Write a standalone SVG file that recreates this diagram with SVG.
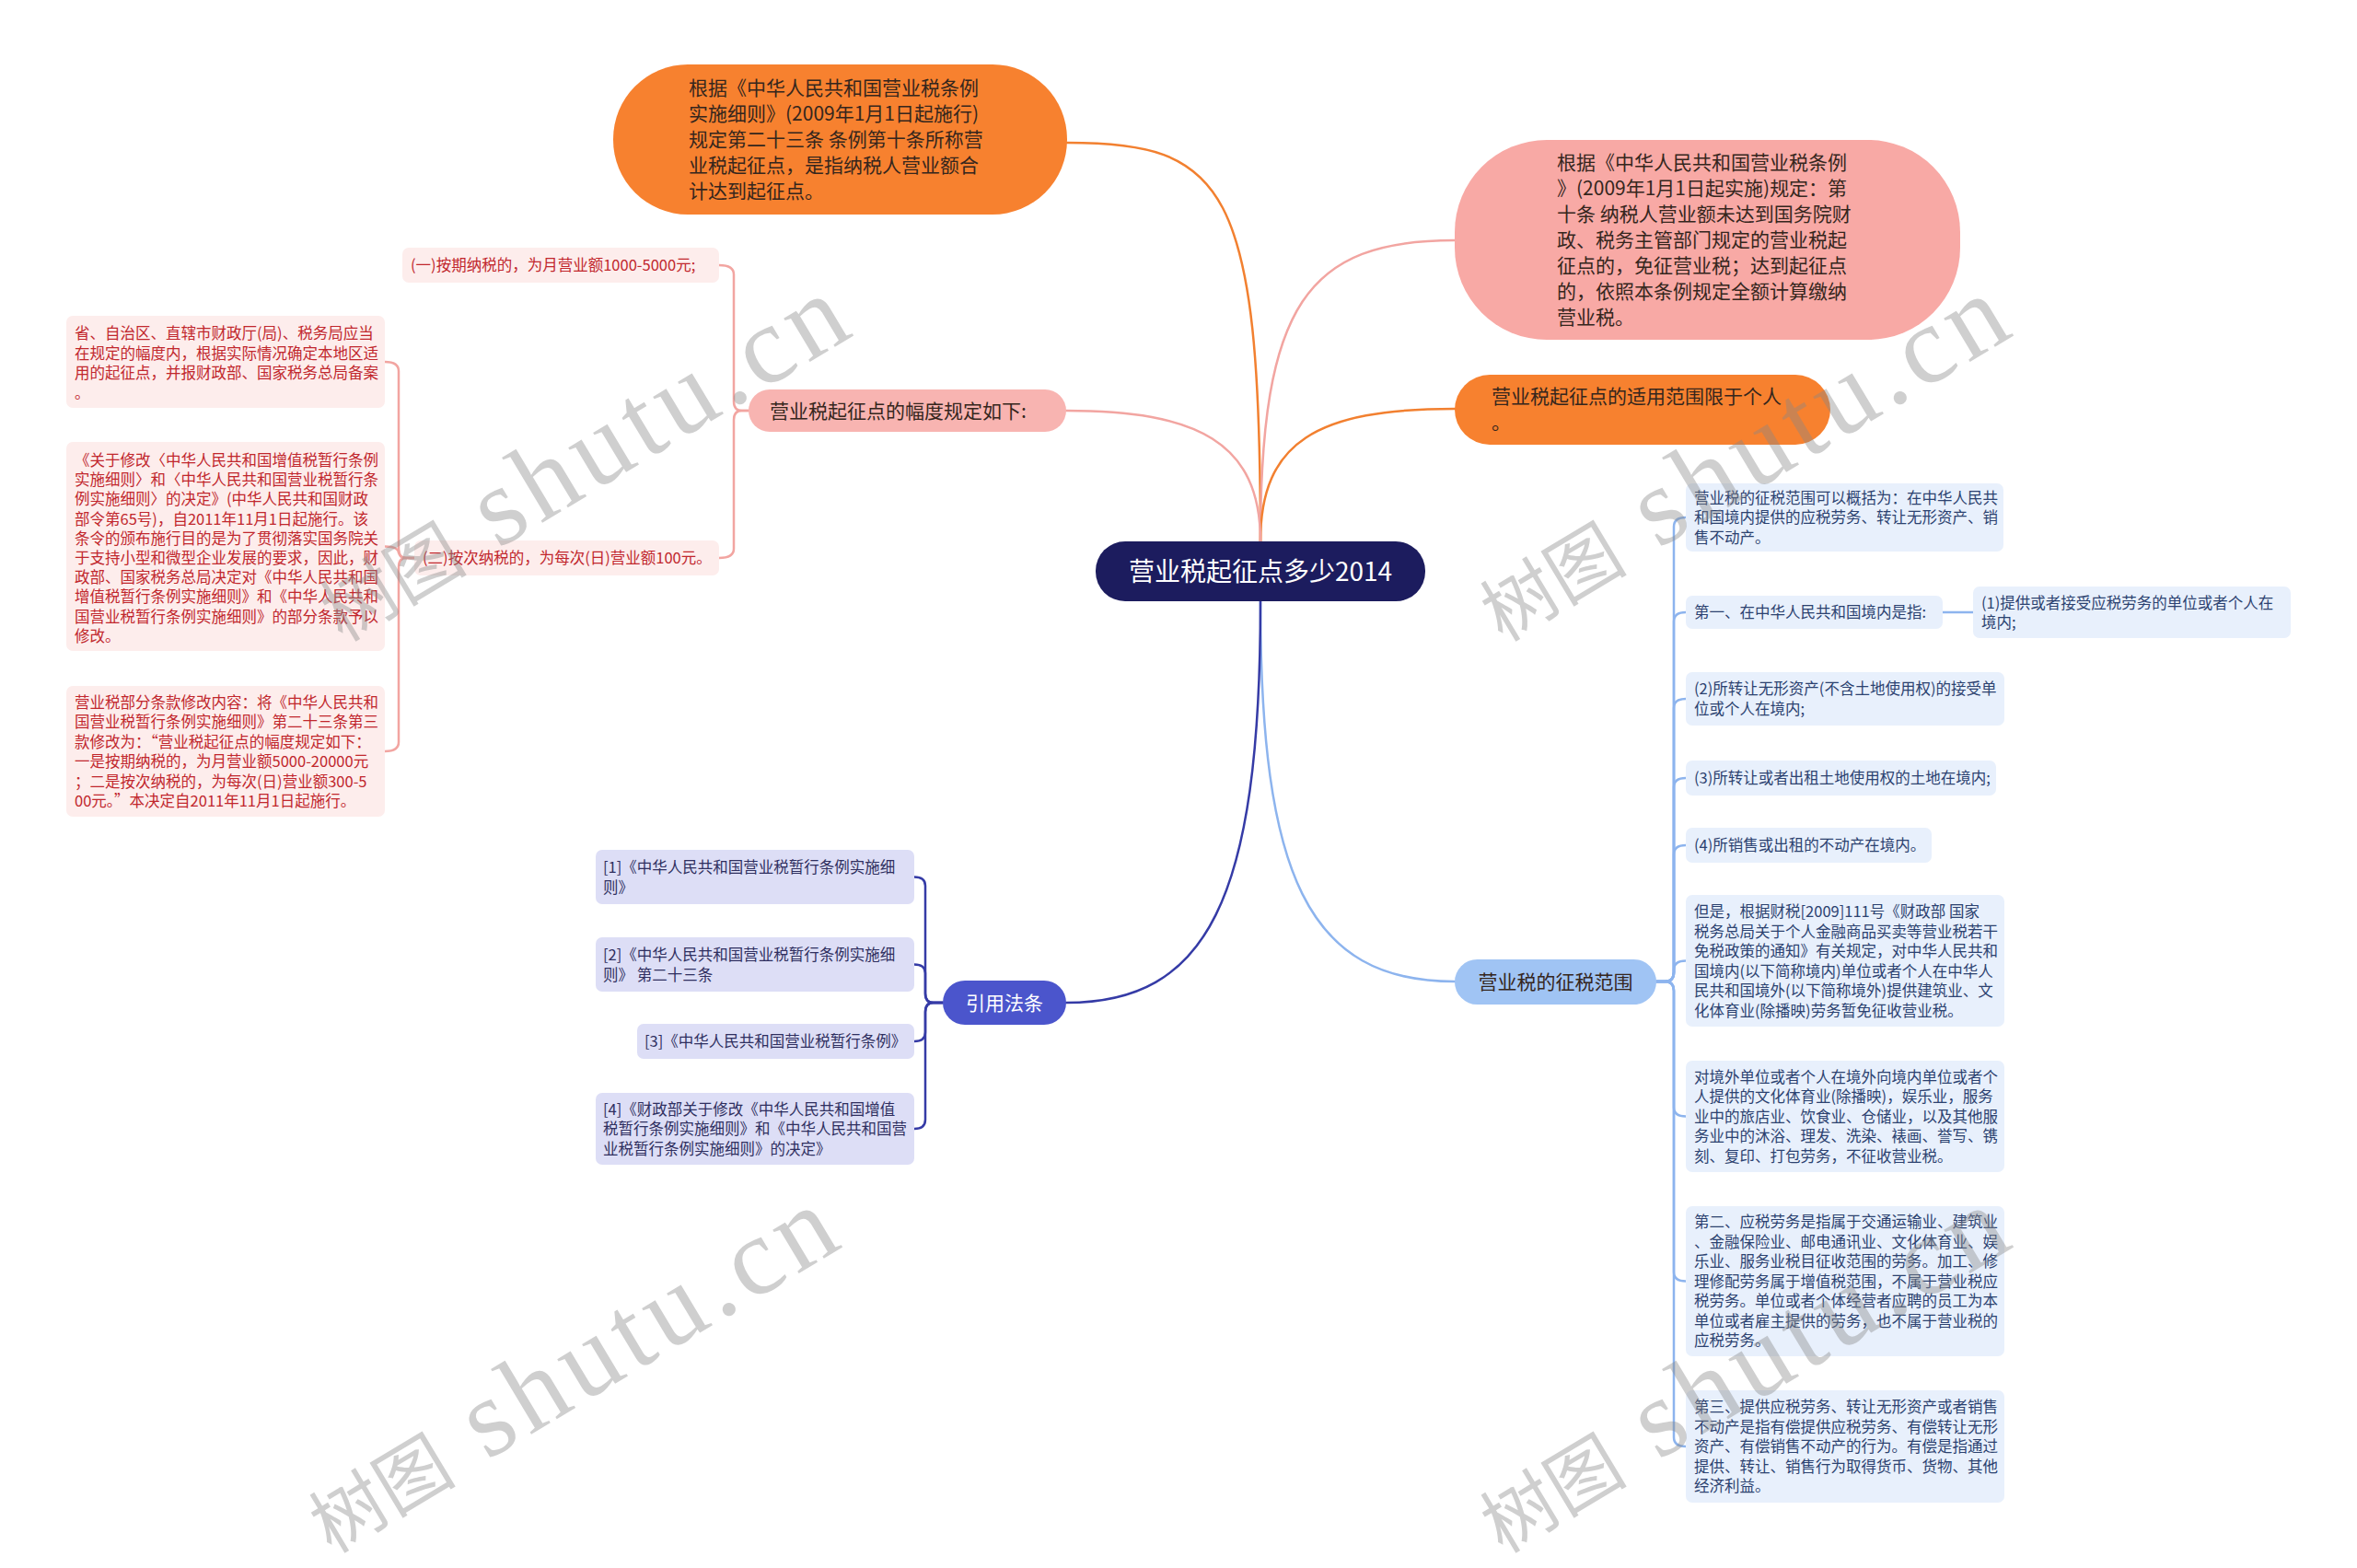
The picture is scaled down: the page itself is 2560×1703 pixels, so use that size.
<svg xmlns="http://www.w3.org/2000/svg" width="2560" height="1703" viewBox="0 0 2560 1703">
<style>
text{font-family:"Noto Sans CJK SC","Noto Sans",sans-serif;}
.bg{fill:#ffffff;}
.l{fill:none;stroke-width:2.5;stroke-linecap:round;}
.lo{stroke:#F28030;}
.lp{stroke:#F2A5A1;}
.lb{stroke:#8DB4EE;}
.li{stroke:#353BA6;}
.main{font-size:21px;fill:#35261d;}
.leaf{font-size:16.5px;}
.pk{fill:#FDEDEC;}
.pkt{fill:#C1272D;}
.bl{fill:#E8F0FC;}
.blt{fill:#2C4270;}
.in{fill:#DDDEF6;}
.int{fill:#2F2F5F;}
.wm{font-family:"Liberation Serif","Noto Sans CJK SC",serif;fill:#888;opacity:0.4;}
.wc{font-family:"Noto Sans CJK SC",sans-serif;font-size:80px;}
.we{font-size:120px;letter-spacing:7px;}
</style>
<rect class="bg" x="0" y="0" width="2560" height="1703"/>

<g id="connectors">
  <path class="l lo" d="M1369 588 C1369 200 1330 155 1159 155"/>
  <path class="l lp" d="M1369 588 C1369 330 1420 261 1580 261"/>
  <path class="l lo" d="M1369 588 C1369 480 1430 444 1580 444"/>
  <path class="l lp" d="M1369 588 C1369 480 1300 446 1158 446"/>
  <path class="l lb" d="M1369 653 C1369 950 1420 1066 1580 1066"/>
  <path class="l li" d="M1369 653 C1369 980 1310 1089 1158 1089"/>

  <path class="l lp" d="M813 446 H806 Q797 446 797 436 V298 Q797 288 781 288"/>
  <path class="l lp" d="M813 446 H806 Q797 446 797 456 V596 Q797 606 781 606"/>
  <path class="l lp" d="M450 606 H441 Q433 606 433 596 V403 Q433 393 418 393"/>
  <path class="l lp" d="M450 606 H441 Q433 606 433 598 V601 Q433 593.5 418 593.5"/>
  <path class="l lp" d="M450 606 H441 Q433 606 433 616 V806 Q433 816 418 816"/>

  <path class="l li" d="M1024 1089 H1014 Q1005 1089 1005 1079 V962 Q1005 952.5 993 952.5"/>
  <path class="l li" d="M1024 1089 H1014 Q1005 1089 1005 1079 V1057 Q1005 1047.5 993 1047.5"/>
  <path class="l li" d="M1024 1089 H1014 Q1005 1089 1005 1099 V1121 Q1005 1131 993 1131"/>
  <path class="l li" d="M1024 1089 H1014 Q1005 1089 1005 1099 V1216 Q1005 1226 993 1226"/>

  <path class="l lb" d="M1799 1066 H1808 Q1818 1066 1818 1056 V572 Q1818 562 1831 562"/>
  <path class="l lb" d="M1799 1066 H1808 Q1818 1066 1818 1056 V675 Q1818 665 1831 665"/>
  <path class="l lb" d="M1799 1066 H1808 Q1818 1066 1818 1056 V769 Q1818 759 1831 759"/>
  <path class="l lb" d="M1799 1066 H1808 Q1818 1066 1818 1056 V855 Q1818 845 1831 845"/>
  <path class="l lb" d="M1799 1066 H1808 Q1818 1066 1818 1056 V928 Q1818 918 1831 918"/>
  <path class="l lb" d="M1799 1066 H1808 Q1818 1066 1818 1056 V1053.5 Q1818 1043.5 1831 1043.5"/>
  <path class="l lb" d="M1799 1066 H1808 Q1818 1066 1818 1076 V1202.5 Q1818 1212.5 1831 1212.5"/>
  <path class="l lb" d="M1799 1066 H1808 Q1818 1066 1818 1076 V1381.5 Q1818 1391.5 1831 1391.5"/>
  <path class="l lb" d="M1799 1066 H1808 Q1818 1066 1818 1076 V1561 Q1818 1571 1831 1571"/>
  <path class="l lb" d="M2110 665 H2143"/>
</g>

<g id="center">
  <rect x="1190" y="588" width="358" height="65" rx="32" fill="#1C1C5E"/>
  <text x="1369" y="630.5" text-anchor="middle" font-size="28" fill="#ffffff">营业税起征点多少2014</text>
</g>

<g id="n-shishi">
  <rect x="666" y="70" width="493" height="163" rx="81" fill="#F7812F"/>
  <text class="main" x="748"><tspan x="748" y="103">根据《中华人民共和国营业税条例</tspan><tspan x="748" y="131">实施细则》(2009年1月1日起施行)</tspan><tspan x="748" y="159">规定第二十三条 条例第十条所称营</tspan><tspan x="748" y="187">业税起征点，是指纳税人营业额合</tspan><tspan x="748" y="215">计达到起征点。</tspan></text>
</g>

<g id="n-tiaoli">
  <rect x="1580" y="152" width="549" height="217" rx="100" fill="#F8A9A5"/>
  <text class="main" x="1691"><tspan x="1691" y="184">根据《中华人民共和国营业税条例</tspan><tspan x="1691" y="212">》(2009年1月1日起实施)规定：第</tspan><tspan x="1691" y="240">十条 纳税人营业额未达到国务院财</tspan><tspan x="1691" y="268">政、税务主管部门规定的营业税起</tspan><tspan x="1691" y="296">征点的，免征营业税；达到起征点</tspan><tspan x="1691" y="324">的，依照本条例规定全额计算缴纳</tspan><tspan x="1691" y="352">营业税。</tspan></text>
</g>

<g id="n-shiyong">
  <rect x="1580" y="407" width="408" height="76" rx="38" fill="#F7812F"/>
  <text class="main"><tspan x="1620" y="438">营业税起征点的适用范围限于个人</tspan><tspan x="1620" y="466">。</tspan></text>
</g>

<g id="n-fudu">
  <rect x="813" y="423" width="345" height="46" rx="23" fill="#F8B4B1"/>
  <text class="main" x="836" y="453.5">营业税起征点的幅度规定如下:</text>
</g>

<g id="n-an-qi">
  <rect class="pk" x="437" y="269" width="344" height="38" rx="7"/>
  <text class="leaf pkt" x="446" y="294">(一)按期纳税的，为月营业额1000-5000元;</text>
</g>

<g id="n-an-ci">
  <rect class="pk" x="450" y="587" width="331" height="38" rx="7"/>
  <text class="leaf pkt" x="459" y="612">(二)按次纳税的，为每次(日)营业额100元。</text>
</g>

<g id="n-sheng">
  <rect class="pk" x="72" y="343" width="346" height="100" rx="7"/>
  <text class="leaf pkt"><tspan x="81" y="368">省、自治区、直辖市财政厅(局)、税务局应当</tspan><tspan x="81" y="389.5">在规定的幅度内，根据实际情况确定本地区适</tspan><tspan x="81" y="411">用的起征点，并报财政部、国家税务总局备案</tspan><tspan x="81" y="432.5">。</tspan></text>
</g>

<g id="n-guanyu">
  <rect class="pk" x="72" y="480" width="346" height="227" rx="7"/>
  <text class="leaf pkt"><tspan x="81" y="506">《关于修改〈中华人民共和国增值税暂行条例</tspan><tspan x="81" y="527.2">实施细则〉和〈中华人民共和国营业税暂行条</tspan><tspan x="81" y="548.4">例实施细则〉的决定》(中华人民共和国财政</tspan><tspan x="81" y="569.6">部令第65号)，自2011年11月1日起施行。该</tspan><tspan x="81" y="590.8">条令的颁布施行目的是为了贯彻落实国务院关</tspan><tspan x="81" y="612">于支持小型和微型企业发展的要求，因此，财</tspan><tspan x="81" y="633.2">政部、国家税务总局决定对《中华人民共和国</tspan><tspan x="81" y="654.4">增值税暂行条例实施细则》和《中华人民共和</tspan><tspan x="81" y="675.6">国营业税暂行条例实施细则》的部分条款予以</tspan><tspan x="81" y="696.8">修改。</tspan></text>
</g>

<g id="n-xiugai">
  <rect class="pk" x="72" y="745" width="346" height="142" rx="7"/>
  <text class="leaf pkt"><tspan x="81" y="768.5">营业税部分条款修改内容：将《中华人民共和</tspan><tspan x="81" y="790">国营业税暂行条例实施细则》第二十三条第三</tspan><tspan x="81" y="811.5">款修改为：“营业税起征点的幅度规定如下：</tspan><tspan x="81" y="833">一是按期纳税的，为月营业额5000-20000元</tspan><tspan x="81" y="854.5">；二是按次纳税的，为每次(日)营业额300-5</tspan><tspan x="81" y="876">00元。”本决定自2011年11月1日起施行。</tspan></text>
</g>

<g id="n-yinyong">
  <rect x="1024" y="1065" width="134" height="48" rx="24" fill="#4B55CC"/>
  <text x="1091" y="1096.5" text-anchor="middle" font-size="21" fill="#ffffff">引用法条</text>
</g>

<g id="n-ref1">
  <rect class="in" x="647" y="923" width="346" height="59" rx="7"/>
  <text class="leaf int"><tspan x="655" y="948">[1]《中华人民共和国营业税暂行条例实施细</tspan><tspan x="655" y="969.5">则》</tspan></text>
</g>
<g id="n-ref2">
  <rect class="in" x="647" y="1018" width="346" height="59" rx="7"/>
  <text class="leaf int"><tspan x="655" y="1043">[2]《中华人民共和国营业税暂行条例实施细</tspan><tspan x="655" y="1064.5">则》 第二十三条</tspan></text>
</g>
<g id="n-ref3">
  <rect class="in" x="692" y="1112" width="301" height="38" rx="7"/>
  <text class="leaf int" x="700" y="1137">[3]《中华人民共和国营业税暂行条例》</text>
</g>
<g id="n-ref4">
  <rect class="in" x="647" y="1187" width="346" height="78" rx="7"/>
  <text class="leaf int"><tspan x="655" y="1210.5">[4]《财政部关于修改《中华人民共和国增值</tspan><tspan x="655" y="1232">税暂行条例实施细则》和《中华人民共和国营</tspan><tspan x="655" y="1253.5">业税暂行条例实施细则》的决定》</tspan></text>
</g>

<g id="n-zhengshui">
  <rect x="1580" y="1042" width="219" height="49" rx="24.5" fill="#A0C4F4"/>
  <text class="main" x="1689.5" y="1073.5" text-anchor="middle" fill="#1f2d4d">营业税的征税范围</text>
</g>

<g id="n-gaikuo">
  <rect class="bl" x="1831" y="525" width="345" height="74" rx="7"/>
  <text class="leaf blt"><tspan x="1840" y="546.5">营业税的征税范围可以概括为：在中华人民共</tspan><tspan x="1840" y="568">和国境内提供的应税劳务、转让无形资产、销</tspan><tspan x="1840" y="589.5">售不动产。</tspan></text>
</g>
<g id="n-diyi">
  <rect class="bl" x="1831" y="647" width="279" height="36" rx="7"/>
  <text class="leaf blt" x="1840" y="671">第一、在中华人民共和国境内是指:</text>
</g>
<g id="n-1">
  <rect class="bl" x="2143" y="637" width="345" height="56" rx="7"/>
  <text class="leaf blt"><tspan x="2152" y="660.5">(1)提供或者接受应税劳务的单位或者个人在</tspan><tspan x="2152" y="682">境内;</tspan></text>
</g>
<g id="n-2">
  <rect class="bl" x="1831" y="730" width="346" height="58" rx="7"/>
  <text class="leaf blt"><tspan x="1840" y="754">(2)所转让无形资产(不含土地使用权)的接受单</tspan><tspan x="1840" y="775.5">位或个人在境内;</tspan></text>
</g>
<g id="n-3">
  <rect class="bl" x="1831" y="826" width="337" height="38" rx="7"/>
  <text class="leaf blt" x="1840" y="851">(3)所转让或者出租土地使用权的土地在境内;</text>
</g>
<g id="n-4">
  <rect class="bl" x="1831" y="899" width="267" height="38" rx="7"/>
  <text class="leaf blt" x="1840" y="924">(4)所销售或出租的不动产在境内。</text>
</g>
<g id="n-danshi">
  <rect class="bl" x="1831" y="972" width="346" height="143" rx="7"/>
  <text class="leaf blt"><tspan x="1840" y="996">但是，根据财税[2009]111号《财政部 国家</tspan><tspan x="1840" y="1017.5">税务总局关于个人金融商品买卖等营业税若干</tspan><tspan x="1840" y="1039">免税政策的通知》有关规定，对中华人民共和</tspan><tspan x="1840" y="1060.5">国境内(以下简称境内)单位或者个人在中华人</tspan><tspan x="1840" y="1082">民共和国境外(以下简称境外)提供建筑业、文</tspan><tspan x="1840" y="1103.5">化体育业(除播映)劳务暂免征收营业税。</tspan></text>
</g>
<g id="n-jingwai">
  <rect class="bl" x="1831" y="1152" width="346" height="121" rx="7"/>
  <text class="leaf blt"><tspan x="1840" y="1175.5">对境外单位或者个人在境外向境内单位或者个</tspan><tspan x="1840" y="1197">人提供的文化体育业(除播映)，娱乐业，服务</tspan><tspan x="1840" y="1218.5">业中的旅店业、饮食业、仓储业，以及其他服</tspan><tspan x="1840" y="1240">务业中的沐浴、理发、洗染、裱画、誉写、镌</tspan><tspan x="1840" y="1261.5">刻、复印、打包劳务，不征收营业税。</tspan></text>
</g>
<g id="n-dier">
  <rect class="bl" x="1831" y="1310" width="346" height="163" rx="7"/>
  <text class="leaf blt"><tspan x="1840" y="1333">第二、应税劳务是指属于交通运输业、建筑业</tspan><tspan x="1840" y="1354.5">、金融保险业、邮电通讯业、文化体育业、娱</tspan><tspan x="1840" y="1376">乐业、服务业税目征收范围的劳务。加工、修</tspan><tspan x="1840" y="1397.5">理修配劳务属于增值税范围，不属于营业税应</tspan><tspan x="1840" y="1419">税劳务。单位或者个体经营者应聘的员工为本</tspan><tspan x="1840" y="1440.5">单位或者雇主提供的劳务，也不属于营业税的</tspan><tspan x="1840" y="1462">应税劳务。</tspan></text>
</g>
<g id="n-disan">
  <rect class="bl" x="1831" y="1510" width="346" height="122" rx="7"/>
  <text class="leaf blt"><tspan x="1840" y="1534">第三、提供应税劳务、转让无形资产或者销售</tspan><tspan x="1840" y="1555.5">不动产是指有偿提供应税劳务、有偿转让无形</tspan><tspan x="1840" y="1577">资产、有偿销售不动产的行为。有偿是指通过</tspan><tspan x="1840" y="1598.5">提供、转让、销售行为取得货币、货物、其他</tspan><tspan x="1840" y="1620">经济利益。</tspan></text>
</g>

<g id="watermarks">
  <text class="wm" transform="translate(372 698) rotate(-31)"><tspan class="wc">树图</tspan><tspan class="we"> shutu.cn</tspan></text>
  <text class="wm" transform="translate(1632 698) rotate(-31)"><tspan class="wc">树图</tspan><tspan class="we"> shutu.cn</tspan></text>
  <text class="wm" transform="translate(360 1688) rotate(-31)"><tspan class="wc">树图</tspan><tspan class="we"> shutu.cn</tspan></text>
  <text class="wm" transform="translate(1632 1688) rotate(-31)"><tspan class="wc">树图</tspan><tspan class="we"> shutu.cn</tspan></text>
</g>
</svg>
